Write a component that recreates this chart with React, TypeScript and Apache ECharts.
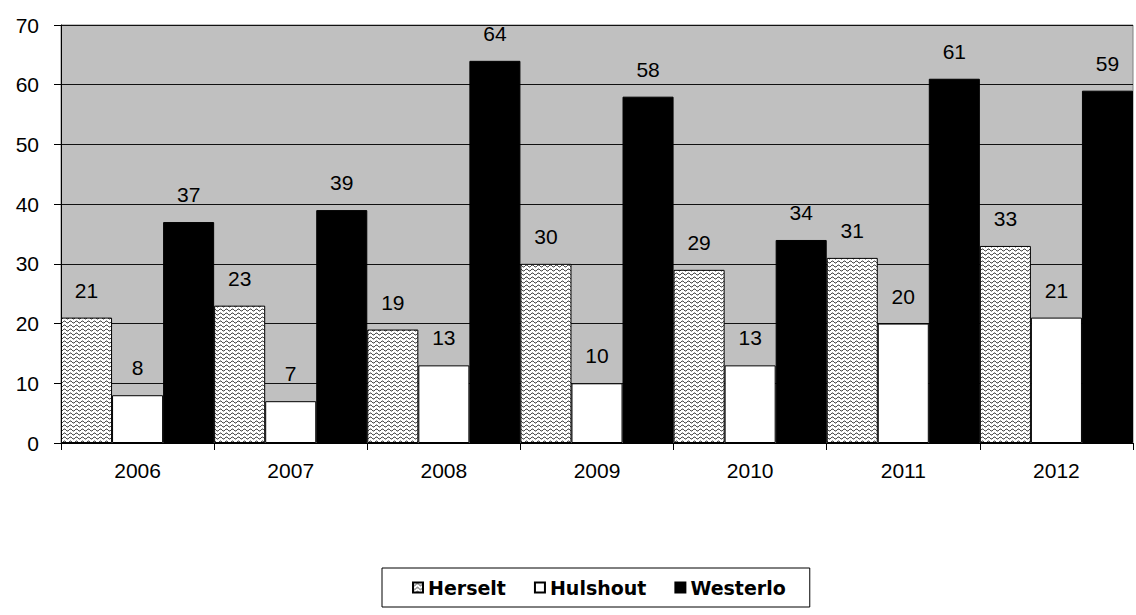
import React, { useEffect, useRef } from "react";
import * as echarts from "echarts";

const years = ["2006", "2007", "2008", "2009", "2010", "2011", "2012"];
const herselt = [21, 23, 19, 30, 29, 31, 33];
const hulshout = [8, 7, 13, 10, 13, 20, 21];
const westerlo = [37, 39, 64, 58, 34, 61, 59];
const yTicks = { min: 0, max: 70, interval: 10 };

function makeWave(): HTMLCanvasElement {
  const c = document.createElement("canvas");
  c.width = 6;
  c.height = 4;
  const ctx = c.getContext("2d")!;
  ctx.fillStyle = "#ffffff";
  ctx.fillRect(0, 0, 6, 4);
  ctx.strokeStyle = "#000000";
  ctx.lineWidth = 0.9;
  ctx.beginPath();
  for (let i = 0; i <= 12; i++) {
    const x = i * 0.5;
    const y = 2 + 1 * Math.sin((2 * Math.PI * x) / 6);
    if (i === 0) ctx.moveTo(x, y);
    else ctx.lineTo(x, y);
  }
  ctx.stroke();
  return c;
}

export default function App() {
  const ref = useRef<HTMLDivElement>(null);
  useEffect(() => {
    const chart = echarts.init(ref.current!, null, { renderer: "svg" });
    const font = "'Liberation Sans', Arial, sans-serif";
    const label = {
      show: true,
      position: "top" as const,
      distance: 17,
      color: "#000",
      fontSize: 21,
      fontFamily: font,
    };
    const wave = makeWave();
    chart.setOption({
      animation: false,
      backgroundColor: "#ffffff",
      grid: {
        left: 61,
        right: 3,
        top: 25,
        bottom: 172,
        show: true,
        backgroundColor: "#c0c0c0",
        borderColor: "#808080",
        borderWidth: 1,
      },
      legend: {
        left: 382,
        top: 568,
        padding: [10, 24, 10, 30],
        itemGap: 28,
        itemWidth: 10,
        itemHeight: 10,
        icon: "rect",
        borderColor: "#000",
        borderWidth: 1,
        textStyle: {
          fontFamily: "'DejaVu Sans', sans-serif",
          fontWeight: "bold",
          fontSize: 19,
          color: "#000",
        },
        data: ["Herselt", "Hulshout", "Westerlo"],
      },
      xAxis: {
        type: "category",
        data: years,
        axisLine: { lineStyle: { color: "#000", width: 1 } },
        axisTick: { show: true, length: 7, lineStyle: { color: "#000" } },
        axisLabel: { color: "#000", fontSize: 21, fontFamily: font, margin: 17 },
        splitLine: { show: false },
      },
      yAxis: {
        type: "value",
        min: yTicks.min,
        max: yTicks.max,
        interval: yTicks.interval,
        axisLine: { show: true, lineStyle: { color: "#000", width: 1 } },
        axisTick: { show: true, length: 7, lineStyle: { color: "#000" } },
        axisLabel: { color: "#000", fontSize: 21, fontFamily: font, margin: 22 },
        splitLine: { show: true, lineStyle: { color: "#111", width: 1 } },
      },
      series: [
        {
          name: "Herselt",
          type: "bar",
          data: herselt,
          barGap: "0%",
          barCategoryGap: "0%",
          itemStyle: {
            color: { image: wave, repeat: "repeat" },
            borderColor: "#000",
            borderWidth: 1,
          },
          label,
        },
        {
          name: "Hulshout",
          type: "bar",
          data: hulshout,
          itemStyle: { color: "#ffffff", borderColor: "#000", borderWidth: 1 },
          label,
        },
        {
          name: "Westerlo",
          type: "bar",
          data: westerlo,
          itemStyle: { color: "#000000", borderColor: "#000", borderWidth: 1 },
          label,
        },
      ],
    });
    return () => chart.dispose();
  }, []);
  return (
    <div
      ref={ref}
      style={{ position: "fixed", left: 0, top: 0, width: 1136, height: 615 }}
    />
  );
}
